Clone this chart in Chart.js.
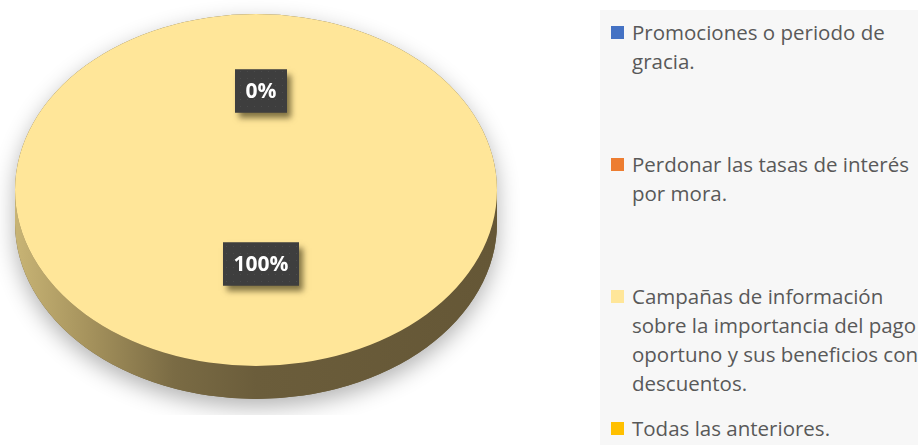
<!DOCTYPE html>
<html>
<head>
<meta charset="utf-8">
<script src="https://cdn.jsdelivr.net/npm/chart.js@4.4.1/dist/chart.umd.min.js"></script>
<style>
  html, body { margin: 0; padding: 0; background: #fff; width: 918px; height: 445px; overflow: hidden; }
  #pie { position: absolute; left: 0; top: -71px; width: 540px; height: 522px; }
  #legend {
    position: absolute; left: 600px; top: 10px; width: 318px; height: 435px;
    background: #f7f7f7; overflow: hidden;
    font-family: "Open Sans", sans-serif; font-size: 20.5px; line-height: 29px; color: #595959;
  }
  .item { position: absolute; left: 11px; white-space: nowrap; }
  .item i { position: absolute; left: 0; top: 8px; width: 13px; height: 13px; }
  .item span { display: block; margin-left: 21px; }
</style>
</head>
<body>
<div id="pie"><canvas id="c"></canvas></div>
<div id="legend"></div>
<script>
// categories (legend text, one entry per line as in the original)
const categories = [
  ["Promociones o periodo de", "gracia."],
  ["Perdonar las tasas de interés", "por mora."],
  ["Campañas de información", "sobre la importancia del pago", "oportuno y sus beneficios con", "descuentos."],
  ["Todas las anteriores."],
]
const values = [0, 0, 100, 0]
const colors = ["#4472C4", "#ED7D31", "#FFE699", "#FFC000"]

const SY = 0.73      // vertical squash of the tilted pie
const DEPTH = 33     // thickness of the pie side

// html legend
const legend = document.getElementById("legend")
categories.forEach((lines, i) => {
  const item = document.createElement("div")
  item.className = "item"
  item.style.top = (8 + i * 132) + "px"
  const mark = document.createElement("i")
  mark.style.background = colors[i]
  const text = document.createElement("span")
  text.innerHTML = lines.join("<br>")
  item.appendChild(mark)
  item.appendChild(text)
  legend.appendChild(item)
})

function dotPattern(ctx) {
  const c = document.createElement("canvas")
  c.width = 7; c.height = 7
  const p = c.getContext("2d")
  p.fillStyle = "#3e3e3e"
  p.fillRect(0, 0, 7, 7)
  p.fillStyle = "#4b4b4b"
  p.fillRect(2, 2, 1, 1)
  return ctx.createPattern(c, "repeat")
}

const pie3d = {
  id: "pie3d",
  beforeDatasetsDraw(chart) {
    const { x, y, outerRadius: r } = chart.getDatasetMeta(0).data[0]
    const ry = r * SY
    const ctx = chart.ctx

    // soft shadow under the whole disc
    ctx.save()
    ctx.beginPath()
    ctx.rect(0, 0, chart.width, y + ry + DEPTH + 16)
    ctx.clip()
    ctx.shadowColor = "rgba(0,0,0,0.3)"
    ctx.shadowBlur = 22
    ctx.shadowOffsetY = 8
    ctx.fillStyle = "#6b5d3b"
    ctx.beginPath()
    ctx.ellipse(x, y, r, ry, 0, Math.PI, 2 * Math.PI)
    ctx.lineTo(x + r, y + DEPTH)
    ctx.ellipse(x, y + DEPTH, r, ry, 0, 0, Math.PI)
    ctx.closePath()
    ctx.fill()
    ctx.restore()

    // side of the pie
    const g = ctx.createLinearGradient(x - r, 0, x + r, 0)
    g.addColorStop(0, "#c8b475")
    g.addColorStop(0.15, "#a6935d")
    g.addColorStop(0.33, "#7a6b44")
    g.addColorStop(0.5, "#6b5d3b")
    g.addColorStop(1, "#655736")
    ctx.save()
    ctx.fillStyle = g
    ctx.beginPath()
    ctx.moveTo(x + r, y)
    ctx.lineTo(x + r, y + DEPTH)
    ctx.ellipse(x, y + DEPTH, r, ry, 0, 0, Math.PI)
    ctx.lineTo(x - r, y)
    ctx.ellipse(x, y, r, ry, 0, Math.PI, 0, true)
    ctx.closePath()
    ctx.fill()
    ctx.restore()
  },
  beforeDatasetDraw(chart, args) {
    const { x, y } = args.meta.data[0]
    const ctx = chart.ctx
    ctx.save()
    ctx.translate(x, y)
    ctx.scale(1, SY)
    ctx.translate(-x, -y)
  },
  afterDatasetDraw(chart) {
    chart.ctx.restore()
  },
  afterDatasetsDraw(chart) {
    const ctx = chart.ctx
    const meta = chart.getDatasetMeta(0)
    const total = values.reduce((a, b) => a + b, 0)
    const pattern = dotPattern(ctx)
    const done = {}
    meta.data.forEach((arc, i) => {
      const mid = (arc.startAngle + arc.endAngle) / 2
      const frac = values[i] > 0 ? 0.42 : 0.56
      const px = Math.round(arc.x + 5 + Math.cos(mid) * arc.outerRadius * frac)
      const py = Math.round(arc.y + Math.sin(mid) * arc.outerRadius * frac * SY)
      const txt = Math.round(values[i] / total * 100) + "%"
      const key = txt + px + "," + py
      if (done[key]) return
      done[key] = true

      ctx.save()
      ctx.font = "bold 21px 'Open Sans'"
      const w = Math.round(ctx.measureText(txt).width + 21)
      const h = 43
      const bx = px - w / 2, by = py - h / 2
      ctx.shadowColor = "rgba(45,38,10,0.6)"
      ctx.shadowBlur = 6
      ctx.shadowOffsetX = 4
      ctx.shadowOffsetY = 5
      ctx.fillStyle = "#3e3e3e"
      ctx.fillRect(bx, by, w, h)
      ctx.shadowColor = "transparent"
      ctx.fillStyle = pattern
      ctx.fillRect(bx, by, w, h)
      ctx.fillStyle = "#ffffff"
      ctx.textAlign = "center"
      ctx.textBaseline = "middle"
      ctx.fillText(txt, px, py + 1)
      ctx.restore()
    })
  },
}

new Chart(document.getElementById("c"), {
  type: "pie",
  data: {
    labels: categories,
    datasets: [{
      data: values,
      backgroundColor: colors,
      borderWidth: 0,
    }],
  },
  options: {
    responsive: true,
    maintainAspectRatio: false,
    animation: false,
    layout: { padding: { left: 15, right: 43, top: 20, bottom: 20 } },
    plugins: {
      legend: { display: false },
      tooltip: { enabled: false },
    },
  },
  plugins: [pie3d],
})
</script>
</body>
</html>
